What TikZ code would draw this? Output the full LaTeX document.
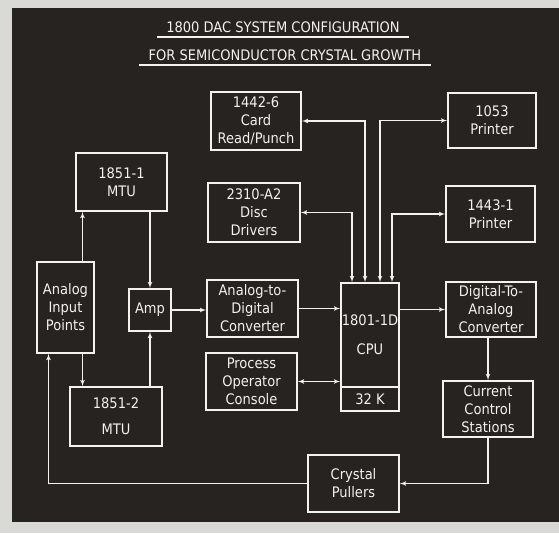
\documentclass[tikz,border=0pt]{standalone}
\usepackage{fontspec}
\setmainfont{DejaVu Sans Condensed}
\usepackage{tikz}
\usetikzlibrary{arrows,positioning,calc}

\definecolor{board}{HTML}{262321}
\definecolor{frame}{HTML}{D9D9D6}
\definecolor{chalk}{HTML}{F2F2EE}

\tikzset{
  unit/.style={draw=chalk, line width=1.6pt, rectangle, inner sep=0pt, align=center,
               text=chalk, font=\fontsize{14.5}{18}\selectfont},
  heading/.style={text=chalk, inner xsep=9pt, inner ysep=4.5pt, anchor=base,
                  font=\fontsize{14.5}{16}\selectfont},
  link/.style={draw=chalk, line width=1.2pt},
}

\begin{document}
\begin{tikzpicture}[x=1pt, y=-1pt, >=latex']
    % background board
    \fill [frame] (0,0) rectangle (559,533);
    \fill [board] (12,8) rectangle (559,522);
    \useasboundingbox (0,0) rectangle (559,533);

    % title
    \node [heading] (ttla) at (283,32) {1800 DAC SYSTEM CONFIGURATION};
    \node [heading] (ttlb) at (285,60) {FOR SEMICONDUCTOR CRYSTAL GROWTH};
    \draw [link] (ttla.south west) -- (ttla.south east);
    \draw [link] (ttlb.south west) -- (ttlb.south east);

    % units
    \node [unit, minimum width=90, minimum height=58] (card) at (256,121) {1442-6\\Card\\Read/Punch};
    \node [unit, minimum width=92, minimum height=59] (disc) at (254,212.5) {2310-A2\\Disc\\Drivers};
    \node [unit, minimum width=91, minimum height=57] (adc) at (252.5,308.5) {Analog-to-\\Digital\\Converter};
    \node [unit, minimum width=91, minimum height=57] (console) at (251.5,381.5) {Process\\Operator\\Console};
    \node [unit, minimum width=58, minimum height=104, font=\fontsize{14.5}{29}\selectfont] (cpu) at (370,335) {1801-1D\\CPU};
    \node [unit, minimum width=58, minimum height=24] (mem) at (370,399) {32 K};
    \node [unit, minimum width=88, minimum height=55] (prta) at (492,120.5) {1053\\Printer};
    \node [unit, minimum width=89, minimum height=56] (prtb) at (490.5,214) {1443-1\\Printer};
    \node [unit, minimum width=90, minimum height=55] (dac) at (491,309.5) {Digital-To-\\Analog\\Converter};
    \node [unit, minimum width=90, minimum height=56] (ccs) at (488,409) {Current\\Control\\Stations};
    \node [unit, minimum width=91, minimum height=57] (pullers) at (353.5,483.5) {Crystal\\Pullers};
    \node [unit, minimum width=91, minimum height=58] (mtua) at (121.5,182) {1851-1\\MTU};
    \node [unit, minimum width=92, minimum height=59, font=\fontsize{14.5}{26}\selectfont] (mtub) at (116,416.5) {1851-2\\MTU};
    \node [unit, minimum width=57, minimum height=91] (aip) at (65.5,307.5) {Analog\\Input\\Points};
    \node [unit, minimum width=42, minimum height=42] (amp) at (150,310) {Amp};

    % analog side
    \draw [link, ->] ([xshift=17pt]aip.north) -- ([xshift=17pt]aip.north |- mtua.south);
    \draw [link, ->] ([xshift=17pt]aip.south) -- ([xshift=17pt]aip.south |- mtub.north);
    \draw [link, ->] (mtua.south -| amp) -- (amp.north);
    \draw [link, ->] (mtub.north -| amp) -- (amp.south);
    \draw [link, ->] (amp.east) -- (amp.east -| adc.west);
    \draw [link, ->] (adc.east) -- (adc.east -| cpu.west);

    % cpu peripherals
    \draw [link, <->] (card.east) -| ([xshift=-5pt]cpu.north);
    \draw [link, <->] (disc.east) -| ([xshift=-18pt]cpu.north);
    \draw [link, <->] (prta.west) -| ([xshift=10pt]cpu.north);
    \draw [link, <->] (prtb.west) -| ([xshift=22pt]cpu.north);
    \draw [link, <->] (console.east) -- (console.east -| cpu.west);

    % control loop
    \draw [link, ->] (dac.west -| cpu.east) -- (dac.west);
    \draw [link, ->] (dac.south -| ccs) -- (ccs.north);
    \draw [link, ->] (ccs.south) |- (pullers.east);
    \draw [link, ->] (pullers.west) -| ([xshift=-17pt]aip.south);
\end{tikzpicture}
\end{document}
